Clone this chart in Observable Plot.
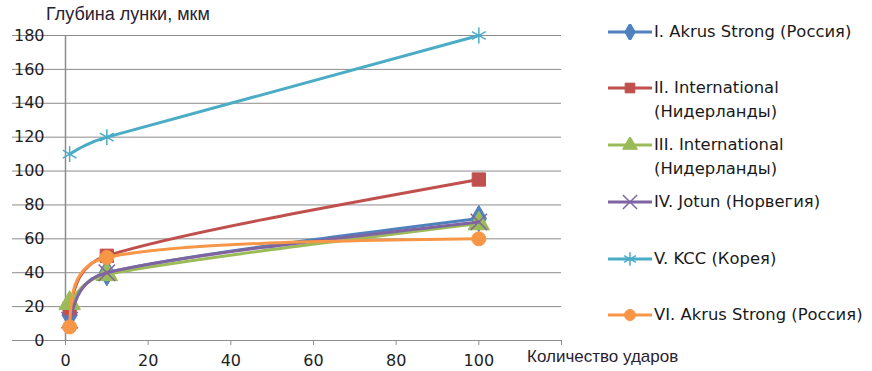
<!DOCTYPE html>
<html><head><meta charset="utf-8">
<script src="https://cdn.jsdelivr.net/npm/d3@7"></script>
<script src="https://cdn.jsdelivr.net/npm/@observablehq/plot@0.6"></script>
<style>
body{margin:0;background:#fff;}
#wrap{position:relative;width:872px;height:371px;overflow:hidden;background:#fff;}
.ttl{position:absolute;font-family:"Liberation Sans",Arial,sans-serif;font-size:17px;color:#2a2230;white-space:nowrap;}
.leg{position:absolute;left:607px;font-family:"DejaVu Sans",sans-serif;font-size:16.4px;color:#1a1a1a;line-height:24px;white-space:nowrap;}
.leg svg{position:absolute;left:0;top:4px;}
.leg div{margin-left:47px;}
</style></head><body><div id="wrap"></div>
<script>
const hits = [1, 10, 100];
const seriesNames = [
  "I. Akrus Strong (Россия)",
  "II. International (Нидерланды)",
  "III. International (Нидерланды)",
  "IV. Jotun (Норвегия)",
  "V. KCC (Корея)",
  "VI. Akrus Strong (Россия)"
];
const legendLines = [
  ["I. Akrus Strong (Россия)"],
  ["II. International", "(Нидерланды)"],
  ["III. International", "(Нидерланды)"],
  ["IV. Jotun (Норвегия)"],
  ["V. KCC (Корея)"],
  ["VI. Akrus Strong (Россия)"]
];
const seriesColors = ["#4F81BD", "#C0504D", "#9BBB59", "#8064A2", "#4BACC6", "#F79646"];
const seriesSymbols = ["diamond", "square", "triangle", "times", "asterisk", "circle"];
const depthI = [15, 40, 72];
const depthII = [19, 50, 95];
const depthIII = [22, 39, 69];
const depthIV = [12, 40, 70];
const depthV = [110, 120, 180];
const depthVI = [8, 49, 60];
const allDepths = [depthI, depthII, depthIII, depthIV, depthV, depthVI];
const yTicks = [0, 20, 40, 60, 80, 100, 120, 140, 160, 180];
const xTicks = [0, 20, 40, 60, 80, 100, 120];
const xTickLabels = [0, 20, 40, 60, 80, 100];
const yTitle = "Глубина лунки, мкм";
const xTitle = "Количество ударов";

const rows = [];
allDepths.forEach((arr, i) => arr.forEach((v, j) => rows.push({series: seriesNames[i], idx: i, hits: hits[j], depth: v})));

// Spreadsheet-style smoothed curve (Bezier with capped Catmull-Rom tangents)
function curveSmooth(context) {
  let pts;
  return {
    areaStart() {}, areaEnd() {},
    lineStart() { pts = []; },
    point(x, y) { pts.push([+x, +y]); },
    lineEnd() {
      const n = pts.length;
      if (!n) return;
      context.moveTo(pts[0][0], pts[0][1]);
      if (n < 3) { for (let i = 1; i < n; i++) context.lineTo(pts[i][0], pts[i][1]); return; }
      const T = pts.map((p, i) => (i > 0 && i < n - 1)
        ? [(pts[i + 1][0] - pts[i - 1][0]) / 6, (pts[i + 1][1] - pts[i - 1][1]) / 6] : null);
      const cap = (v, L) => { const l = Math.hypot(v[0], v[1]); const m = 0.45 * L; return l > m ? [v[0] * m / l, v[1] * m / l] : v; };
      for (let i = 0; i < n - 1; i++) {
        const a = pts[i], b = pts[i + 1];
        const L = Math.hypot(b[0] - a[0], b[1] - a[1]);
        let c1 = null, c2 = null;
        if (T[i]) { const v = cap(T[i], L); c1 = [a[0] + v[0], a[1] + v[1]]; }
        if (T[i + 1]) { const v = cap(T[i + 1], L); c2 = [b[0] - v[0], b[1] - v[1]]; }
        if (!c1) c1 = [a[0] + (c2[0] - a[0]) / 2, a[1] + (c2[1] - a[1]) / 2];
        if (!c2) c2 = [b[0] + (c1[0] - b[0]) / 2, b[1] + (c1[1] - b[1]) / 2];
        context.bezierCurveTo(c1[0], c1[1], c2[0], c2[1], b[0], b[1]);
      }
    }
  };
}

const grid = "#8c8c8c";
const marks = [
  Plot.ruleY(yTicks, {stroke: grid, strokeWidth: 1, insetLeft: -53}),
  Plot.ruleX([0], {stroke: grid, strokeWidth: 1.5}),
  Plot.axisY({ticks: yTicks, tickSize: 0, tickPadding: 21, label: null, tickFormat: d => String(d)}),
  Plot.axisX({ticks: xTicks, tickSize: 5, label: null, stroke: grid, text: null}),
  Plot.axisX({ticks: xTickLabels, tickSize: 0, tickPadding: 14, label: null, tickFormat: d => String(d)})
];
const symR = {diamond: 8, square: 7.5, triangle: 8, times: 7.5, asterisk: 7.5, circle: 7};
seriesNames.forEach((name, i) => {
  const data = rows.filter(r => r.idx === i);
  const c = seriesColors[i];
  const sym = seriesSymbols[i];
  const open = sym === "times" || sym === "asterisk";
  marks.push(Plot.line(data, {x: "hits", y: "depth", stroke: c, strokeWidth: 3, curve: curveSmooth}));
  marks.push(Plot.dot(data, {x: "hits", y: "depth", symbol: sym, r: symR[sym],
    fill: open ? "none" : c, stroke: c, strokeWidth: open ? 1.5 : 1}));
});

const chart = Plot.plot({
  width: 872, height: 371,
  marginLeft: 65, marginRight: 311, marginTop: 35, marginBottom: 31,
  x: {domain: [0, 120]},
  y: {domain: [0, 180]},
  style: {fontFamily: "DejaVu Sans, sans-serif", fontSize: "16px", color: "#1e1e1e", background: "#fff", overflow: "visible"},
  marks
});
const wrap = document.getElementById("wrap");
wrap.appendChild(chart);

const yt = document.createElement("div");
yt.className = "ttl"; yt.style.left = "46px"; yt.style.top = "4px"; yt.style.fontSize = "18px"; yt.textContent = yTitle;
wrap.appendChild(yt);
const xt = document.createElement("div");
xt.className = "ttl"; xt.style.left = "527px"; xt.style.top = "347px"; xt.textContent = xTitle;
wrap.appendChild(xt);

const legendTops = [32, 88, 145, 202, 259, 315];
const symMap = {diamond: d3.symbolDiamond, square: d3.symbolSquare, triangle: d3.symbolTriangle,
  times: d3.symbolTimes, asterisk: d3.symbolAsterisk, circle: d3.symbolCircle};
seriesNames.forEach((name, i) => {
  const item = document.createElement("div");
  item.className = "leg";
  item.style.top = (legendTops[i] - 12) + "px";
  const c = seriesColors[i];
  const sym = seriesSymbols[i];
  const open = sym === "times" || sym === "asterisk";
  const svg = d3.create("svg").attr("width", 46).attr("height", 16);
  svg.append("line").attr("x1", 1).attr("x2", 45).attr("y1", 8).attr("y2", 8)
    .attr("stroke", c).attr("stroke-width", 3);
  const r = open ? 6.5 : 5.5;
  svg.append("path").attr("transform", "translate(23,8)")
    .attr("d", d3.symbol(symMap[sym], Math.PI * r * r)())
    .attr("fill", open ? "none" : c).attr("stroke", c).attr("stroke-width", open ? 1.5 : 1);
  item.appendChild(svg.node());
  legendLines[i].forEach(t => { const d = document.createElement("div"); d.textContent = t; item.appendChild(d); });
  wrap.appendChild(item);
});
</script>
</body></html>
